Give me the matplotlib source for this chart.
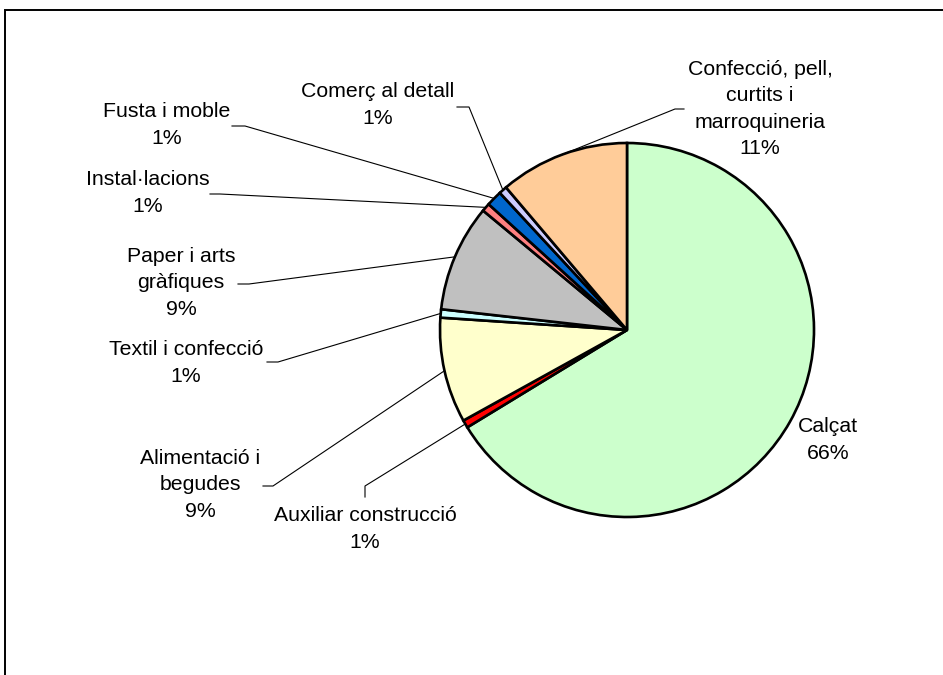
import matplotlib
matplotlib.use("Agg")
import matplotlib.pyplot as plt
import numpy as np

# ---- data (clockwise from 12 o'clock) ----
categories = ["Calçat", "Auxiliar construcció", "Alimentació i\nbegudes",
              "Textil i confecció", "Paper i arts\ngràfiques", "Instal·lacions",
              "Fusta i moble", "Comerç al detall",
              "Confecció, pell,\ncurtits i\nmarroquineria"]
shares = [66.3, 0.67, 9.1, 0.72, 9.25, 0.72, 1.36, 0.70, 11.2]
colors = ["#CCFFCC", "#FF0000", "#FFFFCC", "#CCFFFF", "#C0C0C0",
          "#FF8080", "#0066CC", "#CCCCFF", "#FFCC99"]

# ---- layout (pixel coordinates, y measured from top) ----
W, H = 943, 675
center_px = (627, 330)
radius_px = 187
label_pos = [(828, 440), (365, 529), (200, 485), (186, 363), (181, 283),
             (148, 193), (167, 125), (378, 105), (760, 109)]
# leader: start (near text), elbow ; None = no leader
leaders = [None,
           ((365, 497), (365, 486)),
           ((263, 486), (273, 486)),
           ((267, 362), (278, 362)),
           ((238, 284), (249, 284)),
           ((210, 194), (220, 194)),
           ((232, 126), (245, 126)),
           ((457, 107), (469, 107)),
           ((684, 109), (675, 109))]

plt.rcParams['font.family'] = ['Liberation Sans', 'DejaVu Sans']

fig = plt.figure(figsize=(W / 100, H / 100), dpi=100)
ax = fig.add_axes([0, 0, 1, 1])

def P(x, y):
    return (x, H - y)

cx, cy = P(*center_px)
wedges, _ = ax.pie(shares, colors=colors, startangle=90, counterclock=False,
                   center=(cx, cy), radius=radius_px, frame=True,
                   wedgeprops=dict(edgecolor="black", linewidth=1.9))
ax.set_xlim(0, W)
ax.set_ylim(0, H)
ax.set_aspect("equal")
ax.axis("off")

total = sum(shares)
for w, cat, v, pos, ld in zip(wedges, categories, shares, label_pos, leaders):
    pct = f"{round(v / total * 100):d}%"
    ax.text(*P(*pos), f"{cat}\n{pct}", ha="center", va="center",
            fontsize=15.3, linespacing=1.5, color="black")
    if ld is not None:
        mid = np.deg2rad((w.theta1 + w.theta2) / 2)
        ex = cx + radius_px * np.cos(mid)
        ey = cy + radius_px * np.sin(mid)
        (sx, sy), (bx, by) = ld
        s = P(sx, sy)
        b = P(bx, by)
        ax.plot([s[0], b[0], ex], [s[1], b[1], ey], color="black",
                lw=0.8, solid_joinstyle="miter", zorder=5)

# frame (left and top border of the chart area)
ax.plot([4.5, 4.5, W], [0, H - 10, H - 10], color="black", lw=1.4,
        clip_on=False, solid_joinstyle="miter")

fig.savefig("out.png", dpi=100)
